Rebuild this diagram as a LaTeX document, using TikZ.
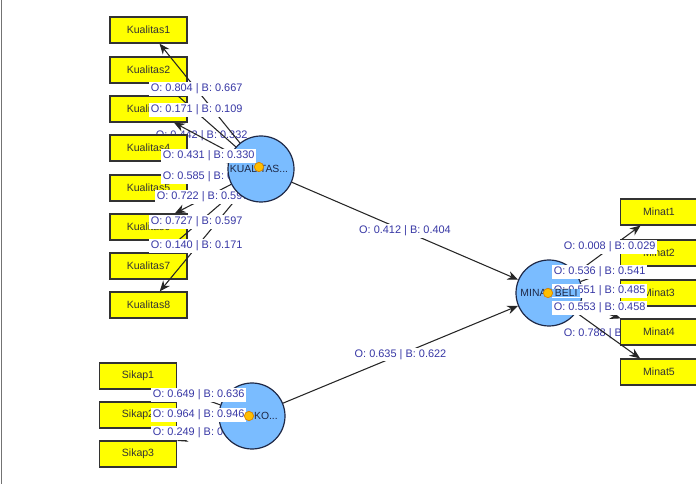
\documentclass[tikz,border=0pt]{standalone}
\usepackage{fontspec}
\setmainfont{Liberation Sans}
\usetikzlibrary{arrows.meta}
\pgfdeclarelayer{bg}
\pgfdeclarelayer{boxes}
\pgfdeclarelayer{circ}
\pgfdeclarelayer{front}
\pgfsetlayers{bg,boxes,main,circ,front}

\definecolor{boxyellow}{RGB}{255,255,0}
\definecolor{lvblue}{RGB}{122,188,255}
\definecolor{lvedge}{RGB}{30,40,70}
\definecolor{lblblue}{RGB}{55,55,165}
\definecolor{dotfill}{RGB}{255,190,0}
\definecolor{dotedge}{RGB}{215,130,0}

\tikzset{
    indicator/.style={rectangle, draw=black!80, fill=boxyellow, line width=0.9pt,
        minimum width=57.75pt, minimum height=19.5pt, inner sep=0pt,
        text=black!80, font=\fontsize{7.9}{8}\selectfont},
    latent/.style={circle, draw=lvedge, fill=lvblue, line width=0.9pt,
        minimum size=49.5pt, inner sep=0pt},
    wlabel/.style={fill=white, text=lblblue, inner sep=1.2pt,
        font=\fontsize{8.2}{9}\selectfont},
    lvname/.style={text=lvedge, inner sep=0.6pt, font=\fontsize{7.8}{8}\selectfont},
    lvdot/.style={circle, draw=dotedge, fill=dotfill, minimum size=7pt,
        inner sep=0pt, line width=0.5pt},
    link/.style={draw=black!85, line width=0.8pt, -{Stealth[length=8pt,width=6.5pt]}}
}

\begin{document}
\begin{tikzpicture}[x=0.75pt, y=-0.75pt]
    \useasboundingbox (0,0) rectangle (696,484);
    \draw[black!55, line width=1.2pt] (1.5,0) -- (1.5,484);

    % weights hidden behind the boxes
    \begin{pgfonlayer}{bg}
        \node[wlabel, anchor=west] (lk3) at (154,136) {O: 0.442 | B: 0.332};
        \node[wlabel, anchor=west] (lm5) at (562,334) {O: 0.788 | B};
    \end{pgfonlayer}

    % indicators
    \begin{pgfonlayer}{boxes}
        \node[indicator] (k1) at (148.5,30) {Kualitas1};
        \node[indicator] (k2) at (148.5,70) {Kualitas2};
        \node[indicator] (k3) at (148.5,109) {Kualitas3};
        \node[indicator] (k4) at (148.5,148) {Kualitas4};
        \node[indicator] (k5) at (148.5,188) {Kualitas5};
        \node[indicator] (k6) at (148.5,227) {Kualitas6};
        \node[indicator] (k7) at (148.5,266) {Kualitas7};
        \node[indicator] (k8) at (148.5,305) {Kualitas8};
        \node[indicator] (s1) at (138,376) {Sikap1};
        \node[indicator] (s2) at (138,415) {Sikap2};
        \node[indicator] (s3) at (138,454) {Sikap3};
        \node[indicator] (m1) at (659,212) {Minat1};
        \node[indicator] (m2) at (659,253) {Minat2};
        \node[indicator] (m3) at (659,293) {Minat3};
        \node[indicator] (m4) at (659,332) {Minat4};
        \node[indicator] (m5) at (659,372) {Minat5};
    \end{pgfonlayer}

    % latent variables
    \begin{pgfonlayer}{circ}
        \node[latent] (kual) at (261,169) {};
        \node[latent] (sikap) at (252,416) {};
        \node[latent] (minat) at (549,293) {};
        \node[lvname] (tkual) at (259,169) {KUALITAS...};
        \node[lvname, anchor=west] (tsikap) at (253,416) {KO...};
    \end{pgfonlayer}

    % outer model
    \draw[link] (kual) -- (k1);
    \draw[link] (kual) -- (k2);
    \draw[link] (kual) -- (k3);
    \draw[link] (kual) -- (k4);
    \draw[link] (kual) -- (k5);
    \draw[link] (kual) -- (k6);
    \draw[link] (kual) -- (k7);
    \draw[link] (kual) -- (k8);
    \draw[link] (sikap) -- (s1);
    \draw[link] (sikap) -- (s2);
    \draw[link] (sikap) -- (s3);
    \draw[link] (minat) -- (m1);
    \draw[link] (minat) -- (m2);
    \draw[link] (minat) -- (m3);
    \draw[link] (minat) -- (m4);
    \draw[link] (minat) -- (m5);

    % inner model
    \draw[link] (kual) -- node[wlabel] (lkm) {O: 0.412 | B: 0.404} (minat);
    \draw[link] (sikap) -- node[wlabel] (lsm) {O: 0.635 | B: 0.622} (minat);

    % weights under the circles
    \node[wlabel, anchor=west] (lk1) at (149,89) {O: 0.804 | B: 0.667};
    \node[wlabel, anchor=west] (lk2) at (149,110) {O: 0.171 | B: 0.109};
    \node[wlabel, anchor=west] (lk5) at (161,177) {O: 0.585 | B: 0};
    \node[wlabel, anchor=west] (lk6) at (155,197) {O: 0.722 | B: 0.597};
    \node[wlabel, anchor=west] (lk7) at (149,222) {O: 0.727 | B: 0.597};
    \node[wlabel, anchor=west] (lk8) at (149,246) {O: 0.140 | B: 0.171};
    \node[wlabel, anchor=west] (ls3) at (151,433) {O: 0.249 | B: 0};

    % weights over the circles
    \begin{pgfonlayer}{front}
        \node[wlabel, anchor=west] (lk4) at (161,156) {O: 0.431 | B: 0.330};
        \node[wlabel, anchor=west] (ls1) at (151,395) {O: 0.649 | B: 0.636};
        \node[wlabel, anchor=west] (ls2) at (151,415) {O: 0.964 | B: 0.946};
        \node[wlabel, anchor=west] (lm1) at (562,247) {O: 0.008 | B: 0.029};
        \node[wlabel, anchor=west] (lm2) at (552,272) {O: 0.536 | B: 0.541};
        \node[wlabel, anchor=west] (lm3) at (552,291) {O: 0.551 | B: 0.485};
        \node[wlabel, anchor=west] (lm4) at (552,308) {O: 0.553 | B: 0.458};
        \node[lvname, fill=lvblue, inner xsep=1.5pt] (tminat) at (549,293) {MINAT BELI};
        \node[lvdot] (dkual) at (259,167) {};
        \node[lvdot] (dsikap) at (249,416) {};
        \node[lvdot] (dminat) at (548,293) {};
    \end{pgfonlayer}
\end{tikzpicture}
\end{document}
